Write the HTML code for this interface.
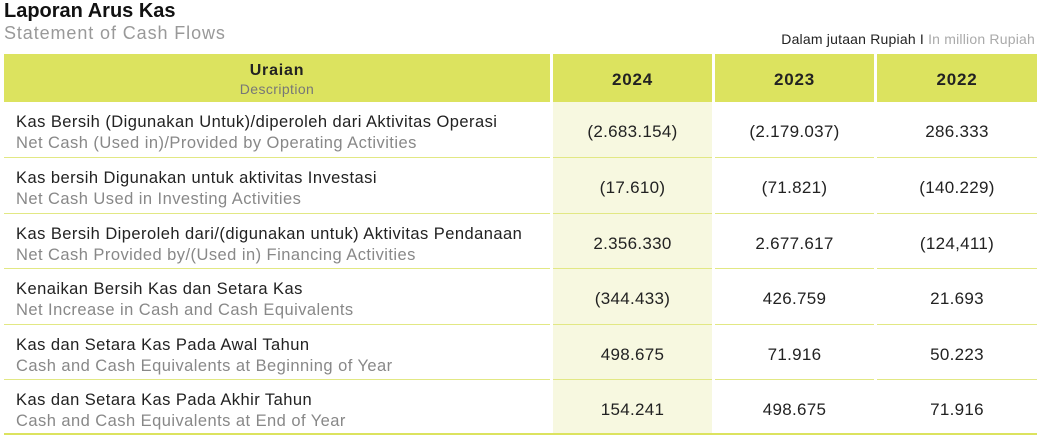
<!DOCTYPE html>
<html><head><meta charset="utf-8"><style>
body{margin:0;width:1039px;height:441px;background:#fff;position:relative;overflow:hidden;font-family:"Liberation Sans",sans-serif;}
.a{position:absolute;}
.t{left:4px;top:0;font-size:20px;font-weight:bold;color:#111;letter-spacing:0px}
.s{left:4px;top:23px;font-size:18px;color:#999;letter-spacing:0.9px}
.u{right:4px;top:31px;font-size:14px;color:#222;letter-spacing:0.2px}
.u span{color:#aaa}
.h{background:#dce35f;top:54px;height:48px}
.c24{background:#f7f8e0}
.hd{font-weight:bold;font-size:17px;color:#222;text-align:center;letter-spacing:0.8px}
.sep{height:1px;background:#e2e884}
.d1{font-size:16.5px;color:#222;left:16px;white-space:nowrap;letter-spacing:0.45px}
.d2{font-size:16.5px;color:#888;left:16px;white-space:nowrap;letter-spacing:0.45px}
.n{font-size:17px;color:#222;text-align:center;letter-spacing:0.3px}
</style></head><body>
<div class="a t">Laporan Arus Kas</div>
<div class="a s">Statement of Cash Flows</div>
<div class="a u">Dalam jutaan Rupiah I <span>In million Rupiah</span></div>
<div class="a h" style="left:4px;width:546px"></div>
<div class="a h" style="left:553px;width:159px"></div>
<div class="a h" style="left:715px;width:159px"></div>
<div class="a h" style="left:877px;width:160px"></div>
<div class="a c24" style="left:553px;top:102px;width:159px;height:332px"></div>
<div class="a hd" style="left:4px;width:546px;top:62px;font-size:16px">Uraian</div>
<div class="a" style="left:4px;width:546px;top:81px;text-align:center;font-size:14px;color:#777;letter-spacing:0.4px">Description</div>
<div class="a hd" style="left:553px;width:159px;top:70px">2024</div>
<div class="a hd" style="left:715px;width:159px;top:70px">2023</div>
<div class="a hd" style="left:877px;width:160px;top:70px">2022</div>
<div id="rows"></div>
<div class="a" style="left:4px;width:1033px;top:433px;height:2px;background:#dce35f"></div>
<script>
var R=[["Kas Bersih (Digunakan Untuk)/diperoleh dari Aktivitas Operasi","Net Cash (Used in)/Provided by Operating Activities","(2.683.154)","(2.179.037)","286.333"],
["Kas bersih Digunakan untuk aktivitas Investasi","Net Cash Used in Investing Activities","(17.610)","(71.821)","(140.229)"],
["Kas Bersih Diperoleh dari/(digunakan untuk) Aktivitas Pendanaan","Net Cash Provided by/(Used in) Financing Activities","2.356.330","2.677.617","(124,411)"],
["Kenaikan Bersih Kas dan Setara Kas","Net Increase in Cash and Cash Equivalents","(344.433)","426.759","21.693"],
["Kas dan Setara Kas Pada Awal Tahun","Cash and Cash Equivalents at Beginning of Year","498.675","71.916","50.223"],
["Kas dan Setara Kas Pada Akhir Tahun","Cash and Cash Equivalents at End of Year","154.241","498.675","71.916"]];
var tops=[102,158,214,269,325,380],h="";
var cols=[[553,159],[715,159],[877,160]];
R.forEach(function(r,i){var y=tops[i];
h+='<div class="a d1" style="top:'+(y+11)+'px">'+r[0]+'</div><div class="a d2" style="top:'+(y+32)+'px">'+r[1]+'</div>';
for(var k=0;k<3;k++)h+='<div class="a n" style="left:'+cols[k][0]+'px;width:'+cols[k][1]+'px;top:'+(y+20)+'px">'+r[2+k]+'</div>';
if(i<5){var sy=tops[i+1]-1;h+='<div class="a sep" style="left:4px;width:546px;top:'+sy+'px"></div>';
cols.forEach(function(c){h+='<div class="a sep" style="left:'+c[0]+'px;width:'+c[1]+'px;top:'+sy+'px"></div>';});}
});
document.getElementById('rows').innerHTML=h;
</script>
</body></html>
